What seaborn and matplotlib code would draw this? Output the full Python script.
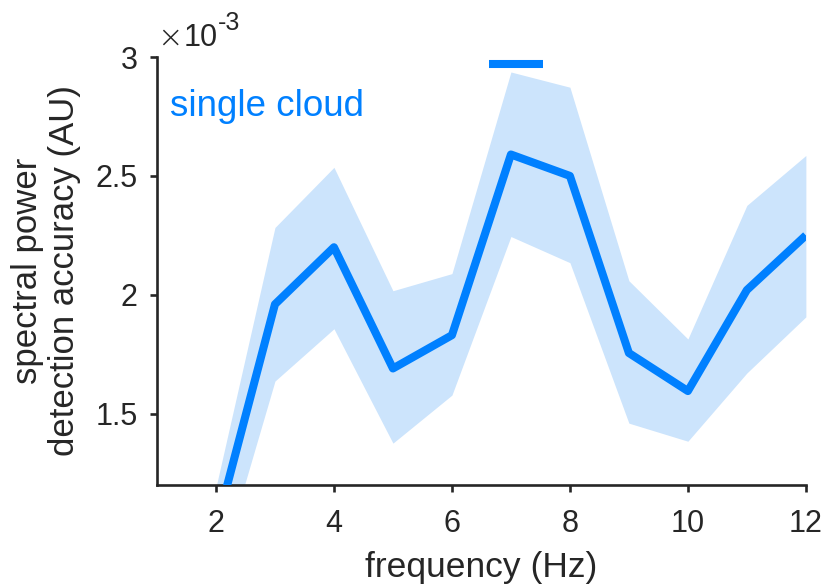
import numpy as np
import pandas as pd
import matplotlib
matplotlib.use("Agg")
import matplotlib.pyplot as plt
import matplotlib.transforms as mtrans
import seaborn as sns

# data (units of 1e-3)
freq = [2, 3, 4, 5, 6, 7, 8, 9, 10, 11, 12]
mean_acc = [1.02, 1.96, 2.20, 1.69, 1.83, 2.59, 2.50, 1.755, 1.595, 2.02, 2.25]
upper = [1.19, 2.283, 2.536, 2.017, 2.089, 2.937, 2.873, 2.059, 1.814, 2.376, 2.586]
lower = [0.79, 1.637, 1.857, 1.376, 1.578, 2.245, 2.135, 1.46, 1.384, 1.671, 1.907]
sig_range = [6.63, 7.54]
sig_level = 2.97
yticks = [1.5, 2, 2.5, 3]
ytick_labels = ["1.5", "2", "2.5", "3"]
xticks = [2, 4, 6, 8, 10, 12]

sns.set_style("white")
plt.rcParams['font.family'] = ['Liberation Sans', 'DejaVu Sans']

blue = (0/255, 128/255, 255/255)
band = (204/255, 228/255, 252/255)
dark = (0.15, 0.15, 0.15)

fig = plt.figure(figsize=(8.24, 5.86), dpi=100)
ax = fig.add_axes([0.1905, 0.1724, 0.978 - 0.1905, 0.9027 - 0.1724])

df = pd.DataFrame({"freq": freq, "acc": mean_acc})
ax.fill_between(freq, lower, upper, color=band, linewidth=0, zorder=1)
sns.lineplot(data=df, x="freq", y="acc", color=blue, linewidth=5.8, ax=ax, zorder=3,
             solid_capstyle="butt")
ax.plot(sig_range, [sig_level, sig_level], color=blue, linewidth=5.8, solid_capstyle="butt", zorder=4)

ax.set_xlim(1, 12)
ax.set_ylim(1.2, 3)
ax.set_xticks(xticks)
ax.set_xticklabels([str(x) for x in xticks])
ax.set_yticks(yticks)
ax.set_yticklabels(ytick_labels)

for s in ["top", "right"]:
    ax.spines[s].set_visible(False)
for s in ["left", "bottom"]:
    ax.spines[s].set_linewidth(1.9)
    ax.spines[s].set_color(dark)

ax.tick_params(axis="both", direction="out", length=5, width=1.9, color=dark,
               labelsize=22, labelcolor=dark, bottom=True, left=True)
ax.tick_params(axis="x", pad=12)
ax.tick_params(axis="y", pad=9)

ax.set_xlabel("frequency (Hz)", fontsize=25.5, color=dark, labelpad=9)
ax.set_ylabel("spectral power\ndetection accuracy (AU)", fontsize=25, color=dark,
              labelpad=10, linespacing=1.15)

ax.text(0.02, 0.885, "single cloud", transform=ax.transAxes, fontsize=26.5, color=blue,
        ha="left", va="center")

# multiplier label above the y axis
base = ax.transAxes
t0 = mtrans.offset_copy(base, fig=fig, x=13, y=19, units="dots")
ax.text(0.0, 1.0, "\u00d7", transform=t0, fontsize=22, color=dark,
        ha="center", va="center", family="DejaVu Sans", fontweight="light")
t1 = mtrans.offset_copy(base, fig=fig, x=27, y=11, units="dots")
ax.text(0.0, 1.0, "10", transform=t1, fontsize=22, color=dark,
        ha="left", va="baseline")
t2 = mtrans.offset_copy(base, fig=fig, x=61, y=27, units="dots")
ax.text(0.0, 1.0, "-3", transform=t2, fontsize=18, color=dark,
        ha="left", va="baseline")

fig.savefig("out.png", dpi=100)
